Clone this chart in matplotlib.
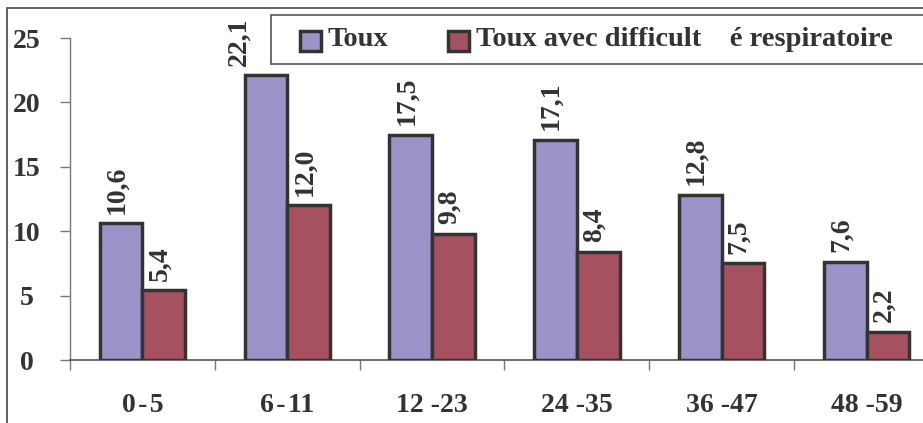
import matplotlib
matplotlib.use("Agg")
import matplotlib.pyplot as plt
from matplotlib.patches import Rectangle
import numpy as np

categories = ["0-5", "6-11", "12-23", "24-35", "36-47", "48-59"]
tick_labels = ["0\u200a-\u200a5", "6\u200a-\u200a11", "12 -23", "24 -35", "36 -47", "48 -59"]
toux = [10.6, 22.1, 17.5, 17.1, 12.8, 7.6]
toux_difficulte = [5.4, 12.0, 9.8, 8.4, 7.5, 2.2]
series_names = ["Toux", "Toux avec difficult    é respiratoire"]
y_ticks = [0, 5, 10, 15, 20, 25]

plt.rcParams["font.family"] = ["Liberation Serif", "DejaVu Serif"]
plt.rcParams["font.weight"] = "bold"

c_purple = "#9a94c8"
c_red = "#a5515f"
c_edge = "#333333"
c_text = "#333333"

W, H = 923, 423
fig = plt.figure(figsize=(W / 100, H / 100), dpi=100)

# outer frame (right and bottom edges fall outside the canvas)
fig.patches.append(Rectangle((7 / W, -0.2), 1.5, 1 - 8 / H + 0.2,
                             transform=fig.transFigure, fill=False,
                             edgecolor="#555555", linewidth=1.3, zorder=0))

left, right = 70, 939
bottom, top = 360, 38
ax = fig.add_axes([left / W, 1 - bottom / H, (right - left) / W, (bottom - top) / H])

x = np.arange(len(categories))
bw = 0.295
b1 = ax.bar(x - bw / 2, toux, bw, color=c_purple, edgecolor=c_edge, linewidth=2.5, zorder=3)
b2 = ax.bar(x + bw / 2, toux_difficulte, bw, color=c_red, edgecolor=c_edge, linewidth=2.5, zorder=3)

for bars, vals in ((b1, toux), (b2, toux_difficulte)):
    for rect, v in zip(bars, vals):
        # the tallest label is nudged left so it clears the legend box
        dx = -19 if v == max(toux) else -3
        ax.annotate(f"{v:.1f}".replace(".", ","),
                    (rect.get_x() + rect.get_width() / 2, v),
                    xytext=(dx, 7), textcoords="offset points",
                    rotation=90, ha="center", va="bottom",
                    fontsize=20, fontweight="bold", color=c_text)

ax.set_xlim(-0.5, len(categories) - 0.5)
ax.set_ylim(0, 25)
ax.set_yticks(y_ticks)
ax.set_yticklabels([str(t) for t in y_ticks], fontsize=20, fontweight="bold", color=c_text)
ax.set_xticks(x)
ax.set_xticklabels(tick_labels, fontsize=20, fontweight="bold", color=c_text)
ax.set_xticks(np.arange(len(categories) + 1) - 0.5, minor=True)
ax.tick_params(axis="x", which="major", length=0, pad=24)
ax.tick_params(axis="x", which="minor", length=7, width=1, color="#777777")
ax.tick_params(axis="y", length=7, width=1, color="#777777", pad=24)
for s in ("top", "right"):
    ax.spines[s].set_visible(False)
ax.spines["left"].set_color("#777777")
ax.spines["bottom"].set_color("#555555")
ax.spines["left"].set_linewidth(1)
ax.spines["bottom"].set_linewidth(1.2)
for lab in ax.get_yticklabels():
    lab.set_horizontalalignment("center")

# legend box
fig.patches.append(Rectangle((271 / W, 1 - 64 / H), 1.0, 49 / H,
                             transform=fig.transFigure, fill=True, facecolor="white",
                             edgecolor="#555555", linewidth=1.2, zorder=5))
for xs, col, name in ((300, c_purple, series_names[0]), (448, c_red, series_names[1])):
    fig.patches.append(Rectangle((xs / W, 1 - 51 / H), 21 / W, 20 / H,
                                 transform=fig.transFigure, facecolor=col,
                                 edgecolor=c_edge, linewidth=2.5, zorder=6))
    fig.text((xs + 28) / W, 1 - 40 / H, name, fontsize=20.5, fontweight="bold",
             color=c_text, va="center", ha="left", zorder=7)

fig.savefig("out.png", dpi=100)
